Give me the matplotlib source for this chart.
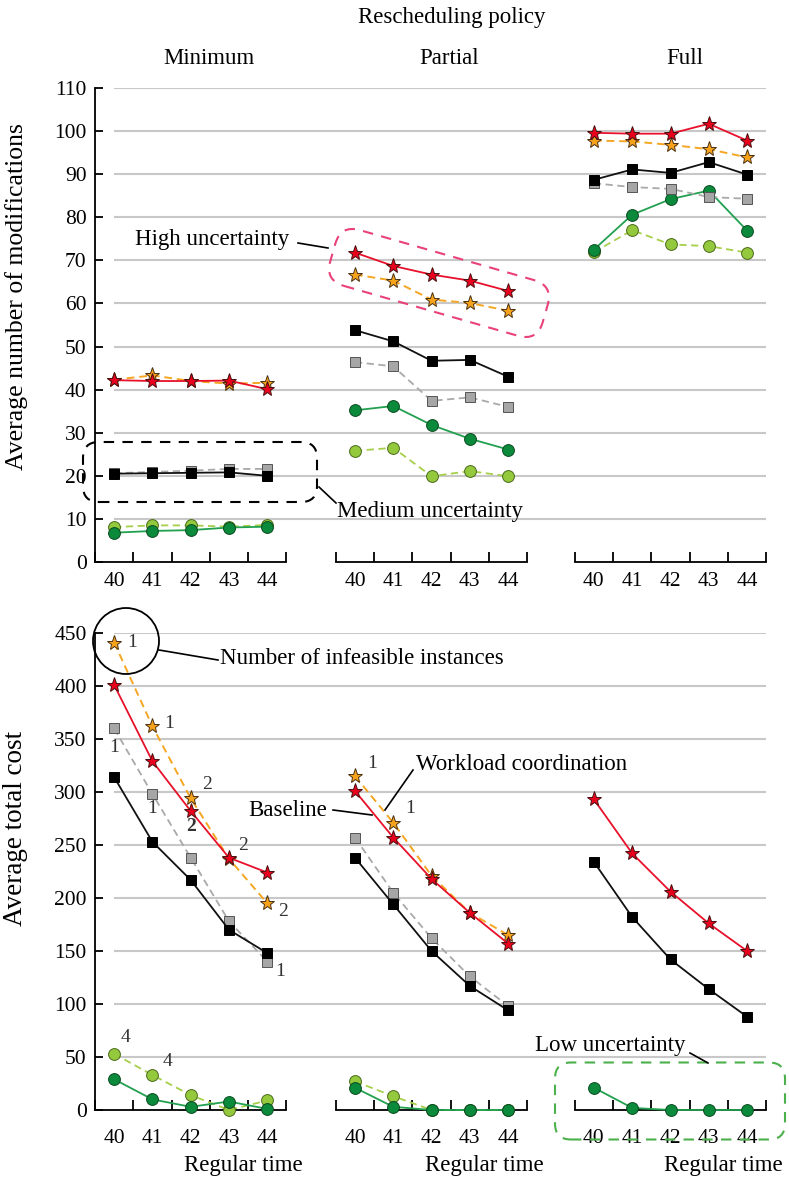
import numpy as np
import matplotlib.pyplot as plt
from matplotlib.patches import FancyBboxPatch, Circle
from matplotlib.lines import Line2D
from matplotlib.transforms import Affine2D

plt.rcParams['font.family'] = ['Liberation Serif', 'DejaVu Serif']

W, H = 789, 1180

reg_time = [40, 41, 42, 43, 44]
policies = ["Minimum", "Partial", "Full"]

# average number of modifications, one row per policy
mod_high_base = [[42.2, 42.0, 42.0, 42.1, 40.1], [71.8, 68.7, 66.7, 65.3, 62.9], [99.6, 99.4, 99.4, 101.7, 97.8]]
mod_high_wc = [[42.3, 43.3, 42.0, 41.4, 41.6], [66.7, 65.3, 60.9, 60.1, 58.3], [97.8, 97.6, 96.8, 95.8, 93.9]]
mod_med_base = [[20.5, 20.6, 20.7, 20.8, 20.0], [53.8, 51.2, 46.7, 46.9, 43.0], [88.7, 91.1, 90.3, 92.8, 89.9]]
mod_med_wc = [[20.6, 20.9, 21.2, 21.6, 21.6], [46.4, 45.4, 37.4, 38.2, 36.0], [87.9, 87.0, 86.6, 84.7, 84.3]]
mod_low_base = [[6.8, 7.2, 7.4, 8.0, 8.2], [35.2, 36.2, 31.8, 28.6, 26.1], [72.5, 80.6, 84.2, 86.2, 76.9]]
mod_low_wc = [[8.1, 8.5, 8.5, 8.2, 8.6], [25.8, 26.5, 19.9, 21.1, 19.9], [71.9, 77.0, 73.7, 73.3, 71.8]]

# average total cost
nan = np.nan
cost_high_base = [[401, 329, 282, 238, 224], [301, 257, 218, 186, 157], [293, 242, 206, 176, 150]]
cost_high_wc = [[441, 362, 294, 237, 195], [315, 271, 221, 186, 165], [nan] * 5]
cost_med_base = [[314, 253, 217, 170, 148], [238, 194, 150, 117, 94], [234, 182, 142, 114, 88]]
cost_med_wc = [[360, 298, 238, 178, 140], [257, 205, 162, 126, 98], [nan] * 5]
cost_low_base = [[29, 10, 3, 8, 1], [21, 3, 0, 0, 0], [21, 2, 0, 0, 0]]
cost_low_wc = [[53, 33, 14, 0, 9], [27, 13, 0, 0, 0], [nan] * 5]

# number of infeasible instances: (series, policy, index, count)
infeasible = [("high_wc", 0, 0, "1"), ("high_wc", 0, 1, "1"), ("high_wc", 0, 2, "2"),
              ("high_base", 0, 2, "2"), ("high_base", 0, 3, "2"), ("high_wc", 0, 4, "2"),
              ("med_wc", 0, 0, "1"), ("med_wc", 0, 1, "1"), ("med_wc", 0, 4, "1"),
              ("low_wc", 0, 0, "4"), ("low_wc", 0, 1, "4"),
              ("high_wc", 1, 0, "1"), ("high_wc", 1, 1, "1")]
lab_off = [(13, 0), (12, 2), (12, 10), (0, -11), (10, 9), (11, -6),
           (0, -14), (0, -10), (9, -7), (8, 12), (11, 10), (12, 9), (12, 10)]

top = dict(high_base=mod_high_base, high_wc=mod_high_wc, med_base=mod_med_base,
           med_wc=mod_med_wc, low_base=mod_low_base, low_wc=mod_low_wc)
bot = dict(high_base=cost_high_base, high_wc=cost_high_wc, med_base=cost_med_base,
           med_wc=cost_med_wc, low_base=cost_low_base, low_wc=cost_low_wc)

dash = (0, (4, 2.5))
style = {
    'low_wc': dict(color='#a6cf4a', ls=dash, lw=1.3, marker='o', ms=8.5, mfc='#95c93d', mec='#4a6a1a', mew=0.7),
    'low_base': dict(color='#22a050', ls='-', lw=1.3, marker='o', ms=8.5, mfc='#0a8a3a', mec='#0a4a20', mew=0.7),
    'med_wc': dict(color='#a9a9a9', ls=dash, lw=1.3, marker='s', ms=7.5, mfc='#a6a6a6', mec='#555555', mew=0.7),
    'med_base': dict(color='#111111', ls='-', lw=1.3, marker='s', ms=7.5, mfc='#000000', mec='#000000', mew=0.7),
    'high_wc': dict(color='#f5a623', ls=dash, lw=1.4, marker='*', ms=11, mfc='#f7a21b', mec='#4a3010', mew=0.7),
    'high_base': dict(color='#e8102a', ls='-', lw=1.3, marker='*', ms=11, mfc='#e8001c', mec='#4a1010', mew=0.7),
}
order = ['low_wc', 'low_base', 'med_wc', 'med_base', 'high_wc', 'high_base']

group_off = [0, 6.29, 12.53]
xmax = 17.55

fig = plt.figure(figsize=(W / 100, H / 100), dpi=100)
ax_top = fig.add_axes([95 / W, (H - 562) / H, 672 / W, 474 / H])
ax_bot = fig.add_axes([95 / W, (H - 1110) / H, 672 / W, 477 / H])


def setup(ax, ymax, step, pad):
    ax.set_xlim(0, xmax)
    ax.set_ylim(0, ymax)
    for s in ['top', 'right', 'bottom']:
        ax.spines[s].set_visible(False)
    ax.spines['left'].set_linewidth(1.3)
    yt = np.arange(0, ymax + 1, step)
    ax.set_yticks(yt)
    ax.tick_params(axis='y', direction='in', length=6, width=1.3, labelsize=15.5, pad=6)
    ax.hlines(yt[1:], 0.5, xmax - 0.02, colors='#c8c8c8', lw=1.5, zorder=0)
    centers = []
    for off in group_off:
        ax.plot([off, off + 5], [0, 0], color='k', lw=1.3, clip_on=False, zorder=2)
        ax.plot(off + np.arange(6), np.zeros(6), ls='none', marker=2, ms=7, mew=1.3,
                color='k', clip_on=False, zorder=2)
        centers += list(off + np.arange(5) + 0.5)
    ax.set_xticks(centers)
    ax.set_xticklabels([str(t) for t in reg_time] * 3)
    ax.tick_params(axis='x', length=0, labelsize=15.5, pad=pad)


setup(ax_top, 110, 10, 7)
setup(ax_bot, 450, 50, 14)

for ax, data in [(ax_top, top), (ax_bot, bot)]:
    for g, off in enumerate(group_off):
        xs = off + np.arange(5) + 0.5
        for key in order:
            ax.plot(xs, data[key][g], clip_on=False, zorder=3, **style[key])

for (key, g, i, txt), (dx, dy) in zip(infeasible, lab_off):
    x = group_off[g] + i + 0.5
    ax_bot.annotate(txt, (x, bot[key][g][i]), xytext=(dx, dy), textcoords='offset points',
                    ha='center', va='center', fontsize=14, color='#333333',
                    fontweight='bold' if (key == 'high_base' and i == 2) else 'normal')

ax_top.set_ylabel("Average number of modifications", fontsize=18.5)
ax_top.yaxis.set_label_coords(-0.1, 0.56)
ax_bot.set_ylabel("Average total cost", fontsize=19.5)
ax_bot.yaxis.set_label_coords(-0.1, 0.59)


# annotations, placed in figure pixels (origin top-left)
def fp(x, y):
    return x / W, 1 - y / H


pix = Affine2D().scale(1 / W, 1 / H) + fig.transFigure


def txt(x, y, s, ha='center'):
    fig.text(*fp(x, y), s, ha=ha, va='center', fontsize=16.5)


def seg(x1, y1, x2, y2, color='k'):
    fig.add_artist(Line2D([x1 / W, x2 / W], [1 - y1 / H, 1 - y2 / H], color=color, lw=1.2,
                          transform=fig.transFigure))


def rbox(cx, cy, w, h, color, rs, angle=0):
    cy = H - cy
    p = FancyBboxPatch((cx - w / 2, cy - h / 2), w, h, boxstyle=f"round,pad=0,rounding_size={rs}",
                       fill=False, ec=color, lw=1.5, ls=(0, (5, 4)),
                       transform=Affine2D().rotate_deg_around(cx, cy, angle) + pix)
    fig.add_artist(p)


txt(452, 18, "Rescheduling policy")
for name, x in zip(policies, [209, 449, 685]):
    txt(x, 58, name)

txt(212, 239, "High uncertainty")
seg(298, 243, 328, 248)
rbox(439, 283, 221, 58, '#e9417a', 20, -16)

rbox(200, 472, 234, 60, 'k', 16)
seg(319, 487, 336, 503)
txt(337, 512, "Medium uncertainty", ha='left')

fig.add_artist(Circle((126, H - 641), 33, fill=False, ec='k', lw=1.3, transform=pix))
seg(159, 650, 218, 660)
txt(220, 659, "Number of infeasible instances", ha='left')

txt(416, 764, "Workload coordination", ha='left')
seg(413, 770, 385, 810)
txt(288, 810, "Baseline")
seg(333, 810, 372, 815)

txt(610, 1045, "Low uncertainty")
seg(690, 1053, 708, 1063)
rbox(670, 1101, 230, 77, '#4cb04c', 16)

for off in group_off:
    xr = 95 + (off + 5) * 672 / xmax + 16
    txt(xr, 1166, "Regular time", ha='right')

fig.savefig("out.png", dpi=100)
